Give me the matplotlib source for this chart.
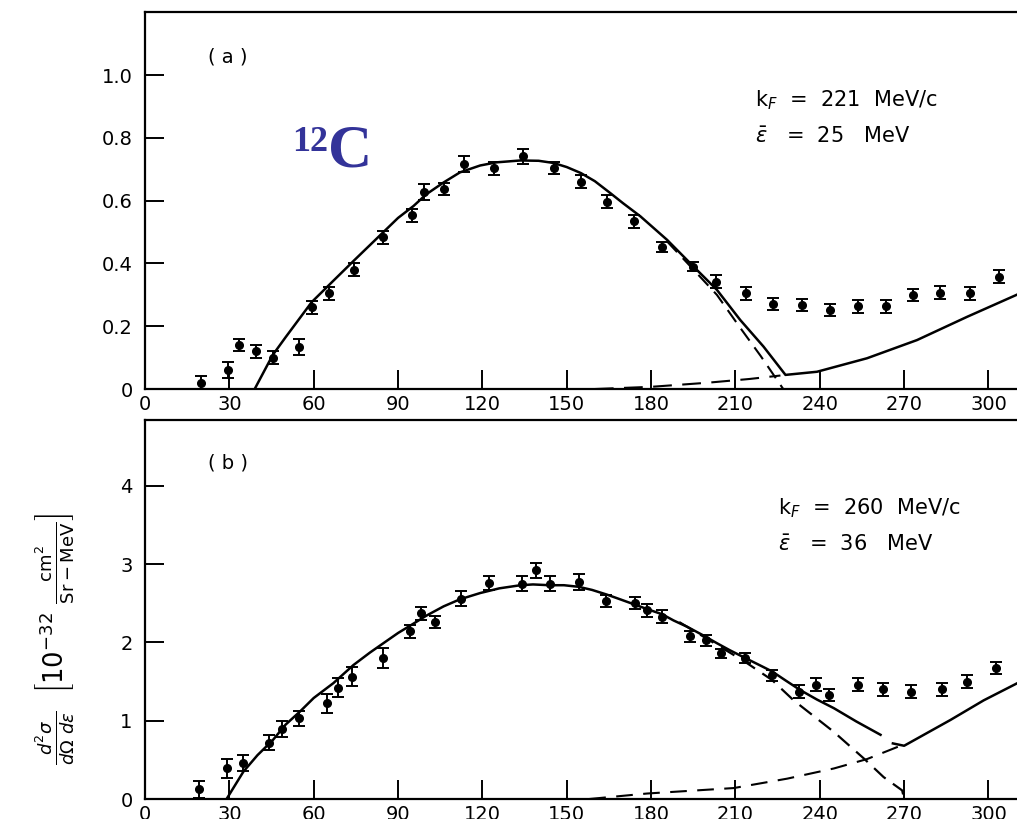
import numpy as np
import matplotlib.pyplot as plt

# ---------------- panel (a): 12C, kF = 221 MeV/c ----------------
a_x = [20, 29.5, 33.6, 39.5, 45.4, 54.9, 59.3, 65.6, 74.4, 84.8, 95, 99.4, 106.2,
       113.3, 124, 134.4, 145.3, 155, 164.3, 173.8, 183.9, 194.8, 203.2, 213.8,
       223.3, 233.7, 243.8, 253.6, 263.6, 273.2, 282.9, 293.6, 303.7]
a_y = [0.02, 0.06, 0.14, 0.12, 0.10, 0.133, 0.26, 0.305, 0.38, 0.483, 0.553, 0.627,
       0.637, 0.717, 0.703, 0.741, 0.704, 0.661, 0.597, 0.534, 0.452, 0.39, 0.342,
       0.305, 0.271, 0.268, 0.252, 0.263, 0.263, 0.30, 0.307, 0.305, 0.358]
a_err = [0.02, 0.025, 0.02, 0.02, 0.02, 0.025, 0.02, 0.02, 0.02, 0.02, 0.02, 0.025,
         0.02, 0.025, 0.02, 0.025, 0.02, 0.02, 0.02, 0.02, 0.015, 0.015, 0.02,
         0.02, 0.02, 0.02, 0.02, 0.02, 0.02, 0.02, 0.02, 0.02, 0.02]

# solid: total response
a_sum_x = [39, 45.4, 50, 59.3, 67, 74.4, 84.8, 90, 95.5, 100, 106.2, 112, 119.2, 125,
           133.5, 140, 145.3, 150, 155, 160, 165.5, 170, 176.2, 180, 185.7, 195.1,
           203.4, 211.7, 220, 227.8, 239, 256.8, 274.6, 292.4, 310]
a_sum_y = [0.0, 0.108, 0.165, 0.277, 0.345, 0.41, 0.50, 0.545, 0.583, 0.62, 0.658,
           0.69, 0.712, 0.722, 0.728, 0.727, 0.72, 0.707, 0.688, 0.662, 0.624, 0.592,
           0.55, 0.52, 0.475, 0.39, 0.316, 0.22, 0.135, 0.045, 0.055, 0.098, 0.156,
           0.23, 0.30]
# dashed: quasielastic part and delta part
a_qe_x = [185.7, 195.1, 203.4, 211.7, 219, 227]
a_qe_y = [0.47, 0.38, 0.30, 0.195, 0.105, 0.0]
a_delta_x = [160, 180, 200, 215, 226]
a_delta_y = [0.0, 0.007, 0.02, 0.032, 0.043]

# ---------------- panel (b): kF = 260 MeV/c ----------------
b_x = [19.3, 29.2, 35, 44.2, 48.6, 54.9, 64.7, 68.6, 73.6, 84.5, 94.1, 98.1, 103.2,
       112.5, 122.5, 134, 139.1, 143.9, 154.2, 163.9, 174.4, 178.5, 183.9, 193.7,
       199.5, 204.9, 213.5, 223, 232.5, 238.8, 243.2, 253.6, 262.5, 272.5, 283.3,
       292.2, 302.5]
b_y = [0.124, 0.39, 0.46, 0.72, 0.89, 1.03, 1.22, 1.42, 1.56, 1.80, 2.14, 2.37, 2.26,
       2.56, 2.76, 2.75, 2.92, 2.75, 2.77, 2.53, 2.50, 2.41, 2.33, 2.08, 2.03, 1.86,
       1.80, 1.58, 1.37, 1.46, 1.33, 1.46, 1.40, 1.37, 1.40, 1.50, 1.67]
b_err = [0.11, 0.12, 0.1, 0.1, 0.1, 0.1, 0.12, 0.12, 0.12, 0.13, 0.08, 0.08, 0.08,
         0.1, 0.09, 0.1, 0.1, 0.1, 0.1, 0.08, 0.08, 0.08, 0.08, 0.07, 0.07, 0.06,
         0.06, 0.07, 0.08, 0.08, 0.08, 0.08, 0.08, 0.08, 0.08, 0.08, 0.08]

b_sum_x = [29, 35, 40, 45.4, 50, 55.2, 60, 67, 74.1, 80, 84.8, 90, 95.5, 100, 106.2,
           112, 119.2, 126, 133.5, 138, 143.9, 149, 154.2, 159, 164.3, 169, 174.4,
           179, 183.9, 188, 192.8, 198, 203.4, 208, 213.5, 218, 223, 228, 233.1,
           239, 245, 253, 261.6]
b_sum_y = [0.0, 0.35, 0.56, 0.75, 0.95, 1.12, 1.29, 1.48, 1.71, 1.87, 1.99, 2.12,
           2.24, 2.34, 2.46, 2.55, 2.63, 2.69, 2.73, 2.74, 2.73, 2.73, 2.71, 2.67,
           2.61, 2.55, 2.48, 2.42, 2.36, 2.28, 2.20, 2.10, 1.99, 1.90, 1.80, 1.72,
           1.63, 1.51, 1.39, 1.27, 1.16, 0.99, 0.82]
b_tail_x = [266, 270, 286.5, 298.3, 310.3]
b_tail_y = [0.71, 0.68, 1.01, 1.26, 1.48]
b_qe_x = [190, 203.4, 213.5, 223, 230.7, 244.9, 255.6, 262.7, 269.3, 270]
b_qe_y = [2.26, 1.97, 1.75, 1.52, 1.26, 0.86, 0.52, 0.28, 0.11, 0.0]
b_delta_x = [158, 178.5, 209.4, 228.4, 245, 256.8, 268.7]
b_delta_y = [0.0, 0.07, 0.14, 0.26, 0.39, 0.51, 0.68]

x_ticks = [0, 30, 60, 90, 120, 150, 180, 210, 240, 270, 300]


def style_axis(ax, ylim, yticks, ylabels):
    ax.set_xlim(0, 310)
    ax.set_ylim(*ylim)
    ax.spines["right"].set_visible(False)
    for s in ax.spines.values():
        s.set_linewidth(1.6)
    ax.set_xticks(x_ticks)
    ax.set_xticklabels([str(t) for t in x_ticks])
    ax.set_yticks(yticks)
    ax.set_yticklabels(ylabels)
    ax.tick_params(direction="in", length=14, width=1.4, labelsize=14, pad=4)
    ax.tick_params(axis="y", pad=9)


def draw_points(ax, x, y, err):
    ax.errorbar(x, y, yerr=err, fmt="o", color="black", ms=5.5,
                capsize=4, elinewidth=1.4, capthick=1.4, zorder=3)


fig = plt.figure(figsize=(10.17, 8.19), dpi=100)

ax_a = fig.add_axes([0.1426, 0.525, 0.857, 0.46])
style_axis(ax_a, (0, 1.2), [0, 0.2, 0.4, 0.6, 0.8, 1.0],
           ["0", "0.2", "0.4", "0.6", "0.8", "1.0"])
draw_points(ax_a, a_x, a_y, a_err)
ax_a.plot(a_sum_x, a_sum_y, color="black", lw=1.8)
ax_a.plot(a_qe_x, a_qe_y, color="black", lw=1.5, ls=(0, (7, 4)))
ax_a.plot(a_delta_x, a_delta_y, color="black", lw=1.5, ls=(0, (9, 5)))
ax_a.text(0.072, 0.88, "( a )", transform=ax_a.transAxes, fontsize=14, va="center")
ax_a.text(0.7, 0.767, r"k$_F$  =  221  MeV/c", transform=ax_a.transAxes,
          fontsize=15, va="center")
ax_a.text(0.7, 0.668, r"$\bar{\epsilon}$   =  25   MeV", transform=ax_a.transAxes,
          fontsize=15, va="center")
# 12C label: superscript mass number and element symbol
ax_a.text(0.169, 0.61, "12", transform=ax_a.transAxes, fontsize=26,
          color="#333399", family="Liberation Serif", fontweight="bold", va="bottom")
ax_a.text(0.21, 0.555, "C", transform=ax_a.transAxes, fontsize=44,
          color="#333399", family="Liberation Serif", fontweight="bold", va="bottom")

ax_b = fig.add_axes([0.1426, 0.0244, 0.857, 0.4628])
style_axis(ax_b, (0, 4.84), [0, 1, 2, 3, 4], ["0", "1", "2", "3", "4"])
draw_points(ax_b, b_x, b_y, b_err)
ax_b.plot(b_sum_x, b_sum_y, color="black", lw=1.8)
ax_b.plot(b_tail_x, b_tail_y, color="black", lw=1.8)
ax_b.plot(b_qe_x, b_qe_y, color="black", lw=1.6, ls=(0, (7, 4)))
ax_b.plot(b_delta_x, b_delta_y, color="black", lw=1.5, ls=(0, (8, 5)))
ax_b.text(0.072, 0.887, "( b )", transform=ax_b.transAxes, fontsize=14, va="center")
ax_b.text(0.726, 0.768, r"k$_F$  =  260  MeV/c", transform=ax_b.transAxes,
          fontsize=15, va="center")
ax_b.text(0.726, 0.67, r"$\bar{\epsilon}$   =  36   MeV", transform=ax_b.transAxes,
          fontsize=15, va="center")

fig.text(0.054, 0.22,
         r"$\frac{d^2\sigma}{d\Omega\ d\epsilon}\ \ \left[\mathrm{10}^{-32}\ \frac{\mathrm{cm}^2}{\mathrm{Sr-MeV}}\right]$",
         rotation=90, ha="center", va="center", fontsize=18.5)

fig.savefig("out.png", dpi=100)
